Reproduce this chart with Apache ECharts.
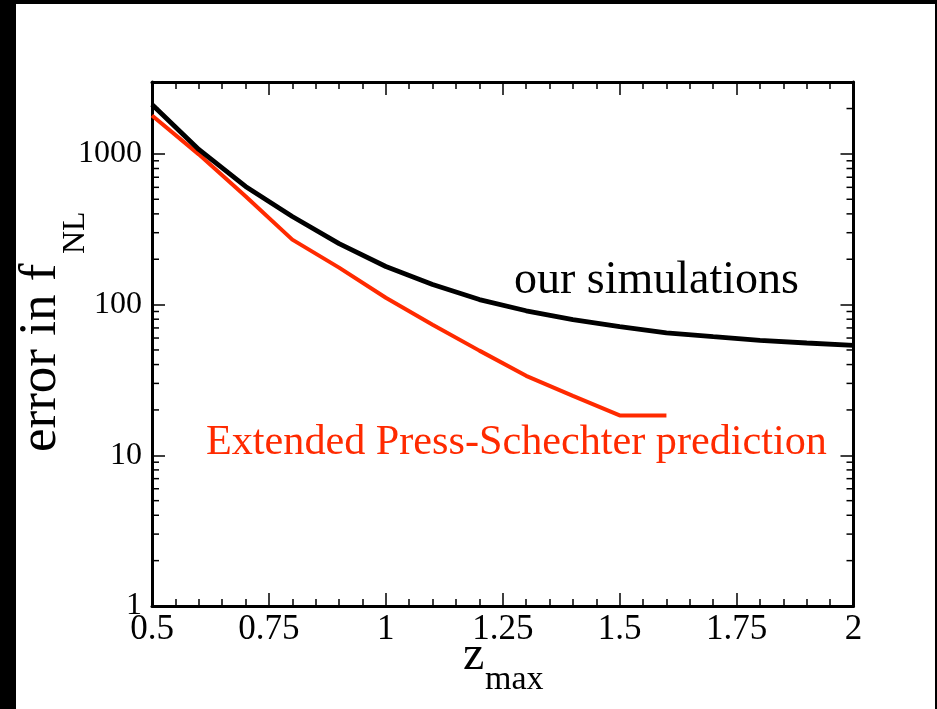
<!DOCTYPE html>
<html>
<head>
<meta charset="utf-8">
<script src="https://cdn.jsdelivr.net/npm/echarts@6/dist/echarts.min.js"></script>
<style>
  html, body { margin: 0; padding: 0; background: #fff; }
  #chart { width: 937px; height: 709px; }
</style>
</head>
<body>
<div id="chart"></div>
<script>
// z_max sampling and the forecast error on f_NL
const zSim = [0.5, 0.6, 0.7, 0.8, 0.9, 1.0, 1.1, 1.2, 1.3, 1.4, 1.5, 1.6, 1.7, 1.8, 1.9, 2.0];
const errSim = [2130, 1070, 608, 384, 254, 179, 136, 108, 91, 79.5, 71.4, 65, 61.3, 57.9, 55.6, 53.7];

const zEPS = [0.5, 0.6, 0.7, 0.8, 0.9, 1.0, 1.1, 1.2, 1.3, 1.4, 1.5, 1.6];
const errEPS = [1800, 993, 524, 270, 176, 111, 73.6, 49.5, 33.7, 24.8, 18.4, 18.4];

const xMin = 0.5, xMax = 2, xStep = 0.25;
const yMin = 1, yMax = 3000;
const yDecades = [1, 10, 100, 1000];

// minor log ticks (2..9 within each decade)
const yMinorTicks = [];
yDecades.forEach(d => {
  for (let k = 2; k <= 9; k++) {
    const v = k * d;
    if (v < yMax) yMinorTicks.push(v);
  }
});

const FONT = '"Liberation Serif", "DejaVu Serif", serif';
const RED = '#ff2a00';

const chart = echarts.init(document.getElementById('chart'), null, { renderer: 'canvas' });

const xAxisBase = {
  type: 'value', min: xMin, max: xMax, interval: xStep,
  axisLine: { show: true, onZero: false, lineStyle: { color: '#000', width: 3 } },
  axisTick: { show: true, inside: true, length: 13, lineStyle: { color: '#000', width: 1.5 } },
  minorTick: { show: true, splitNumber: 5, length: 7, lineStyle: { color: '#000', width: 1.5 } },
  splitLine: { show: false },
  minorSplitLine: { show: false }
};
const yAxisBase = {
  type: 'log', logBase: 10, min: yMin, max: yMax,
  axisLine: { show: true, onZero: false, lineStyle: { color: '#000', width: 3 } },
  axisTick: { show: true, inside: true, length: 13, lineStyle: { color: '#000', width: 1.5 } },
  splitLine: { show: false }
};

const option = {
  animation: false,
  backgroundColor: '#fff',
  grid: { left: 152, right: 83.5, top: 82, bottom: 103, containLabel: false },
  xAxis: [
    Object.assign({}, xAxisBase, {
      position: 'bottom',
      axisLabel: { show: true, color: '#000', fontFamily: FONT, fontSize: 35, margin: 6 }
    }),
    Object.assign({}, xAxisBase, { position: 'top', axisLabel: { show: false } })
  ],
  yAxis: [
    Object.assign({}, yAxisBase, {
      position: 'left',
      axisLabel: {
        show: true, color: '#000', fontFamily: FONT, fontSize: 32, margin: 10,
        formatter: v => {
          const e = Math.log10(v);
          return Math.abs(e - Math.round(e)) < 1e-6 ? String(Math.round(v)) : '';
        }
      }
    }),
    Object.assign({}, yAxisBase, { position: 'right', axisLabel: { show: false } })
  ],
  series: [
    {
      name: 'our simulations', type: 'line',
      data: zSim.map((z, i) => [z, errSim[i]]),
      symbol: 'none', lineStyle: { color: '#000', width: 4.8 }, z: 3
    },
    {
      name: 'Extended Press-Schechter prediction', type: 'line',
      data: zEPS.map((z, i) => [z, errEPS[i]]),
      symbol: 'none', lineStyle: { color: RED, width: 4 }, z: 2
    },
    {
      // minor log ticks on the left and right frame edges
      type: 'custom', silent: true, clip: false, z: 5,
      data: yMinorTicks.map(v => [xMin, v]),
      encode: { x: 0, y: 1 },
      renderItem: (params, api) => {
        const v = api.value(1);
        const pl = api.coord([xMin, v]);
        const pr = api.coord([xMax, v]);
        const st = { stroke: '#000', lineWidth: 1.5 };
        return {
          type: 'group',
          children: [
            { type: 'line', shape: { x1: pl[0], y1: pl[1], x2: pl[0] + 7, y2: pl[1] }, style: st },
            { type: 'line', shape: { x1: pr[0] - 7, y1: pr[1], x2: pr[0], y2: pr[1] }, style: st }
          ]
        };
      }
    }
  ],
  graphic: [
    // dark frame strips
    { type: 'rect', shape: { x: 0, y: 0, width: 16, height: 709 }, style: { fill: '#000' } },
    { type: 'rect', shape: { x: 0, y: 0, width: 937, height: 4 }, style: { fill: '#000' } },
    { type: 'rect', shape: { x: 935, y: 0, width: 2, height: 709 }, style: { fill: '#000' } },
    // curve annotations
    { type: 'text', x: 514, y: 304, style: { text: 'our simulations', font: '46px ' + FONT, fill: '#000', textAlign: 'left', textVerticalAlign: 'bottom' } },
    { type: 'text', x: 206, y: 464, style: { text: 'Extended Press-Schechter prediction', font: '42.2px ' + FONT, fill: RED, textAlign: 'left', textVerticalAlign: 'bottom' } },
    // x-axis title: z_max
    { type: 'text', x: 463, y: 680, style: { text: 'z', font: '48px ' + FONT, fill: '#000', textAlign: 'left', textVerticalAlign: 'bottom' } },
    { type: 'text', x: 485, y: 697, style: { text: 'max', font: '34px ' + FONT, fill: '#000', textAlign: 'left', textVerticalAlign: 'bottom' } },
    // y-axis title: error in f_NL (reads bottom to top)
    {
      type: 'group', x: 56, y: 452, rotation: Math.PI / 2,
      children: [
        { type: 'text', x: 0, y: 12, style: { text: 'error in f', font: '53px ' + FONT, fill: '#000', textAlign: 'left', textVerticalAlign: 'bottom' } },
        { type: 'text', x: 198, y: 36, style: { text: 'NL', font: '32px ' + FONT, fill: '#000', textAlign: 'left', textVerticalAlign: 'bottom' } }
      ]
    }
  ]
};

chart.setOption(option);
</script>
</body>
</html>
